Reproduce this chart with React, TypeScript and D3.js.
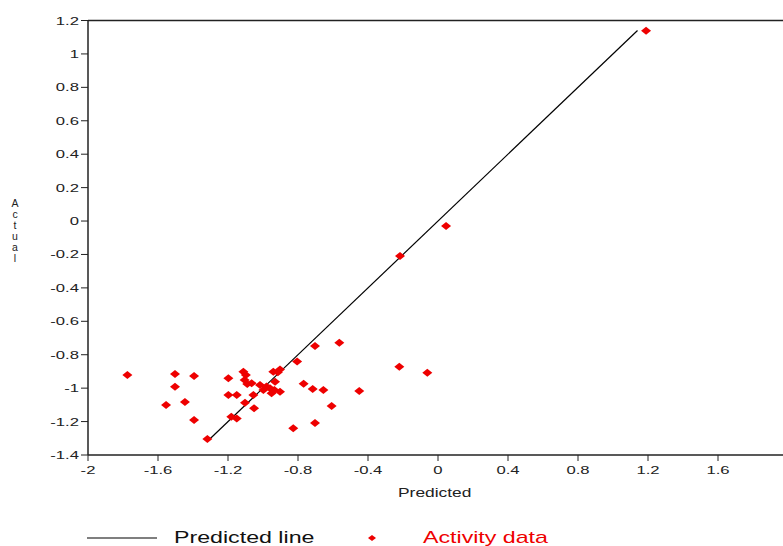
import React from "react";
import * as d3 from "d3";

const xTicks = [-2, -1.6, -1.2, -0.8, -0.4, 0, 0.4, 0.8, 1.2, 1.6, 2];
const xTickLabels = ["-2", "-1.6", "-1.2", "-0.8", "-0.4", "0", "0.4", "0.8", "1.2", "1.6", "2"];
const yTicks = [1.2, 1, 0.8, 0.6, 0.4, 0.2, 0, -0.2, -0.4, -0.6, -0.8, -1, -1.2, -1.4];
const yTickLabels = ["1.2", "1", "0.8", "0.6", "0.4", "0.2", "0", "-0.2", "-0.4", "-0.6", "-0.8", "-1", "-1.2", "-1.4"];

const predicted = [
  -1.775, -1.503, -1.394, -1.503, -1.554, -1.446, -1.394, -1.318, -1.198, -1.198,
  -1.15, -1.181, -1.15, -1.112, -1.098, -1.105, -1.065, -1.09, -1.103, -1.051,
  -1.055, -1.017, -0.998, -0.98, -0.951, -0.931, -0.941, -0.903, -0.915, -0.903,
  -0.96, -0.935, -0.805, -0.768, -0.703, -0.564, -0.716, -0.655, -0.45, -0.608,
  -0.703, -0.827, -0.221, -0.061, -0.217, 0.046, 1.189,
];
const actual = [
  -0.921, -0.915, -0.927, -0.991, -1.101, -1.083, -1.191, -1.305, -0.941, -1.041,
  -1.041, -1.171, -1.181, -0.902, -0.921, -0.951, -0.97, -0.975, -1.087, -1.121,
  -1.041, -0.981, -1.011, -0.99, -1.031, -0.962, -0.902, -0.888, -0.905, -1.021,
  -1.0, -1.011, -0.84, -0.973, -0.748, -0.728, -1.005, -1.011, -1.017, -1.107,
  -1.209, -1.24, -0.872, -0.908, -0.209, -0.03, 1.139,
];
const lineX = [-1.31, 1.14];
const lineY = [-1.31, 1.14];

const W = 783;
const H = 546;
const left = 88;
const top = 20.5;
const bottom = 455;
const SX = 1.45;
const font = "'Liberation Sans', Arial, sans-serif";

export default function App() {
  const x = d3.scaleLinear().domain([-2, 2]).range([left, 788]);
  const y = d3.scaleLinear().domain([-1.4, 1.2]).range([bottom, top]);
  const line = d3
    .line<number>()
    .x((_, i) => x(lineX[i]))
    .y((_, i) => y(lineY[i]));
  const diamond = (w: number, h: number) => `M0,${-h}L${w},0L0,${h}L${-w},0Z`;
  const stretched = (tx: number, ty: number) => `translate(${tx},${ty}) scale(${SX},1)`;

  return (
    <svg
      width={W}
      height={H}
      style={{ position: "absolute", left: 0, top: 0, background: "#fff" }}
      fontFamily={font}
    >
      <rect width={W} height={H} fill="#fff" />
      {/* axes */}
      <line x1={left} x2={W} y1={top} y2={top} stroke="#222" strokeWidth={1.5} />
      <line x1={left} x2={W} y1={bottom} y2={bottom} stroke="#222" strokeWidth={1.5} />
      <line x1={left} x2={left} y1={top} y2={bottom} stroke="#222" strokeWidth={1.5} />
      {yTicks.map((t, i) => (
        <g key={"y" + i}>
          <line x1={left - 7} x2={left} y1={y(t)} y2={y(t)} stroke="#222" strokeWidth={1} />
          <text
            transform={stretched(left - 9, y(t) + 4)}
            textAnchor="end"
            fontSize={11.5}
            fill="#222"
          >
            {yTickLabels[i]}
          </text>
        </g>
      ))}
      {xTicks.map((t, i) => (
        <g key={"x" + i}>
          <line x1={x(t)} x2={x(t)} y1={bottom} y2={bottom + 6} stroke="#222" strokeWidth={1} />
          <text
            transform={stretched(x(t), bottom + 19)}
            textAnchor="middle"
            fontSize={11.5}
            fill="#222"
          >
            {xTickLabels[i]}
          </text>
        </g>
      ))}
      <text transform={stretched(398, 497)} fontSize={12} fill="#222">
        Predicted
      </text>
      <text
        x={15}
        y={197}
        fontSize={10.5}
        fill="#222"
        letterSpacing={-1}
        style={{ writingMode: "vertical-rl", textOrientation: "upright" } as React.CSSProperties}
      >
        Actual
      </text>
      {/* predicted line */}
      <path d={line(lineX) || ""} fill="none" stroke="#000" strokeWidth={1.2} />
      {/* points */}
      {predicted.map((p, i) => (
        <path
          key={"p" + i}
          d={diamond(5, 4)}
          transform={`translate(${x(p)},${y(actual[i])})`}
          fill="#ee0000"
        />
      ))}
      {/* legend */}
      <line x1={87} x2={157} y1={538} y2={538} stroke="#000" strokeWidth={1.2} />
      <text transform={stretched(174, 543)} fontSize={16} fill="#111">
        Predicted line
      </text>
      <path d={diamond(4, 3)} transform="translate(372,538)" fill="#ee0000" />
      <text transform={stretched(423, 543)} fontSize={16} fill="#ee0000">
        Activity data
      </text>
    </svg>
  );
}
